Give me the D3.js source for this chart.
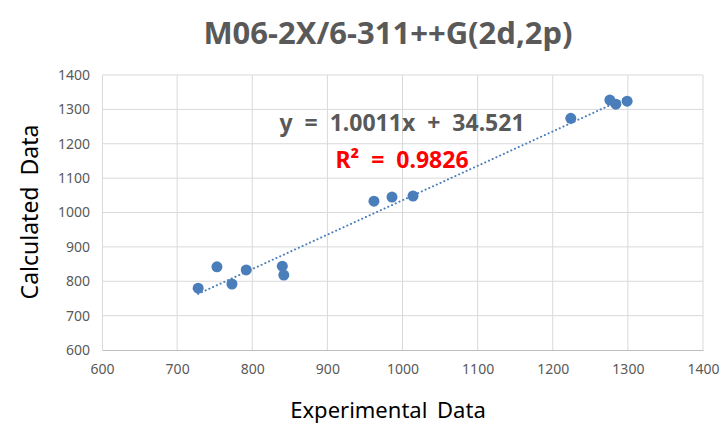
<!DOCTYPE html>
<html>
<head>
<meta charset="utf-8">
<script src="https://cdn.jsdelivr.net/npm/d3@7"></script>
<style>
  body { margin: 0; background: #fff; }
  svg text { font-family: "Noto Sans", "Open Sans", sans-serif; }
</style>
</head>
<body>
<div class="chart"></div>
<script>
// data
var experimental = [728, 753, 773, 792, 840, 842, 962, 986, 1014, 1224, 1276, 1284, 1299];
var calculated   = [780, 842, 792, 833, 844, 818, 1033, 1045, 1048, 1274, 1327, 1315, 1324];
var slope = 1.0011, intercept = 34.521, rSquared = 0.9826;
var ticks = [600, 700, 800, 900, 1000, 1100, 1200, 1300, 1400];

var width = 721, height = 427;
var margin = {left: 102, right: 18, top: 75, bottom: 77};

function drawGraph() {
    var svg = d3.select('.chart')
      .append('svg')
        .attr('width', width)
        .attr('height', height);

    var x = d3.scaleLinear().domain([600, 1400]).range([margin.left, width - margin.right]);
    var y = d3.scaleLinear().domain([600, 1400]).range([height - margin.bottom, margin.top]);

    // grid
    svg.append('g').selectAll('line.v')
      .data(ticks.slice(1))
      .enter().append('line')
        .attr('x1', d => x(d)).attr('x2', d => x(d))
        .attr('y1', y(600)).attr('y2', y(1400))
        .attr('stroke', '#d9d9d9').attr('stroke-width', 1);

    svg.append('g').selectAll('line.h')
      .data(ticks.slice(1))
      .enter().append('line')
        .attr('x1', x(600)).attr('x2', x(1400))
        .attr('y1', d => y(d)).attr('y2', d => y(d))
        .attr('stroke', '#d9d9d9').attr('stroke-width', 1);

    // axes
    var fmt = d3.format('d');
    var xAxis = svg.append('g')
        .attr('transform', 'translate(0,' + y(600) + ')')
        .call(d3.axisBottom(x).tickValues(ticks).tickFormat(fmt).tickSize(0).tickPadding(14));
    var yAxis = svg.append('g')
        .attr('transform', 'translate(' + x(600) + ',0)')
        .call(d3.axisLeft(y).tickValues(ticks).tickFormat(fmt).tickSize(0).tickPadding(12));

    [xAxis, yAxis].forEach(function(a) {
        a.select('.domain').attr('stroke', '#bfbfbf');
        a.selectAll('text')
          .style('font-size', '14px')
          .style('fill', '#595959');
    });
    yAxis.select('.domain').attr('stroke', '#d9d9d9');

    // trendline, from smallest to largest x
    var xs = d3.extent(experimental);
    svg.append('line')
        .attr('x1', x(xs[0])).attr('y1', y(slope * xs[0] + intercept))
        .attr('x2', x(xs[1])).attr('y2', y(slope * xs[1] + intercept))
        .attr('stroke', '#4a7ebb')
        .attr('stroke-width', 2)
        .attr('stroke-dasharray', '0.1,4')
        .attr('stroke-linecap', 'round');

    // points
    svg.append('g').selectAll('circle')
      .data(experimental)
      .enter().append('circle')
        .attr('cx', d => x(d))
        .attr('cy', (d, i) => y(calculated[i]))
        .attr('r', 5.5)
        .attr('fill', '#4a7ebb');

    // title
    svg.append('text')
        .attr('x', 388).attr('y', 44)
        .attr('text-anchor', 'middle')
        .style('font-size', '31px')
        .style('font-weight', 'bold')
        .style('fill', '#595959')
        .text('M06-2X/6-311++G(2d,2p)');

    // axis titles
    svg.append('text')
        .attr('x', 388).attr('y', 418)
        .attr('text-anchor', 'middle')
        .style('font-size', '22px')
        .style('fill', '#000')
        .style('word-spacing', '4px')
        .text('Experimental Data');

    svg.append('text')
        .attr('transform', 'translate(38,' + 212 + ') rotate(-90)')
        .attr('text-anchor', 'middle')
        .style('font-size', '23px')
        .style('fill', '#000')
        .style('word-spacing', '5px')
        .text('Calculated Data');

    // equation labels
    svg.append('text')
        .attr('x', 402).attr('y', 131)
        .attr('text-anchor', 'middle')
        .style('font-size', '23px')
        .style('font-weight', 'bold')
        .style('fill', '#595959')
        .style('word-spacing', '6px')
        .text('y = ' + slope + 'x + ' + intercept);

    svg.append('text')
        .attr('x', 402).attr('y', 168)
        .attr('text-anchor', 'middle')
        .style('font-size', '23px')
        .style('font-weight', 'bold')
        .style('fill', '#ff0000')
        .style('word-spacing', '6px')
        .text('R² = ' + rSquared);
}

drawGraph();
</script>
</body>
</html>
